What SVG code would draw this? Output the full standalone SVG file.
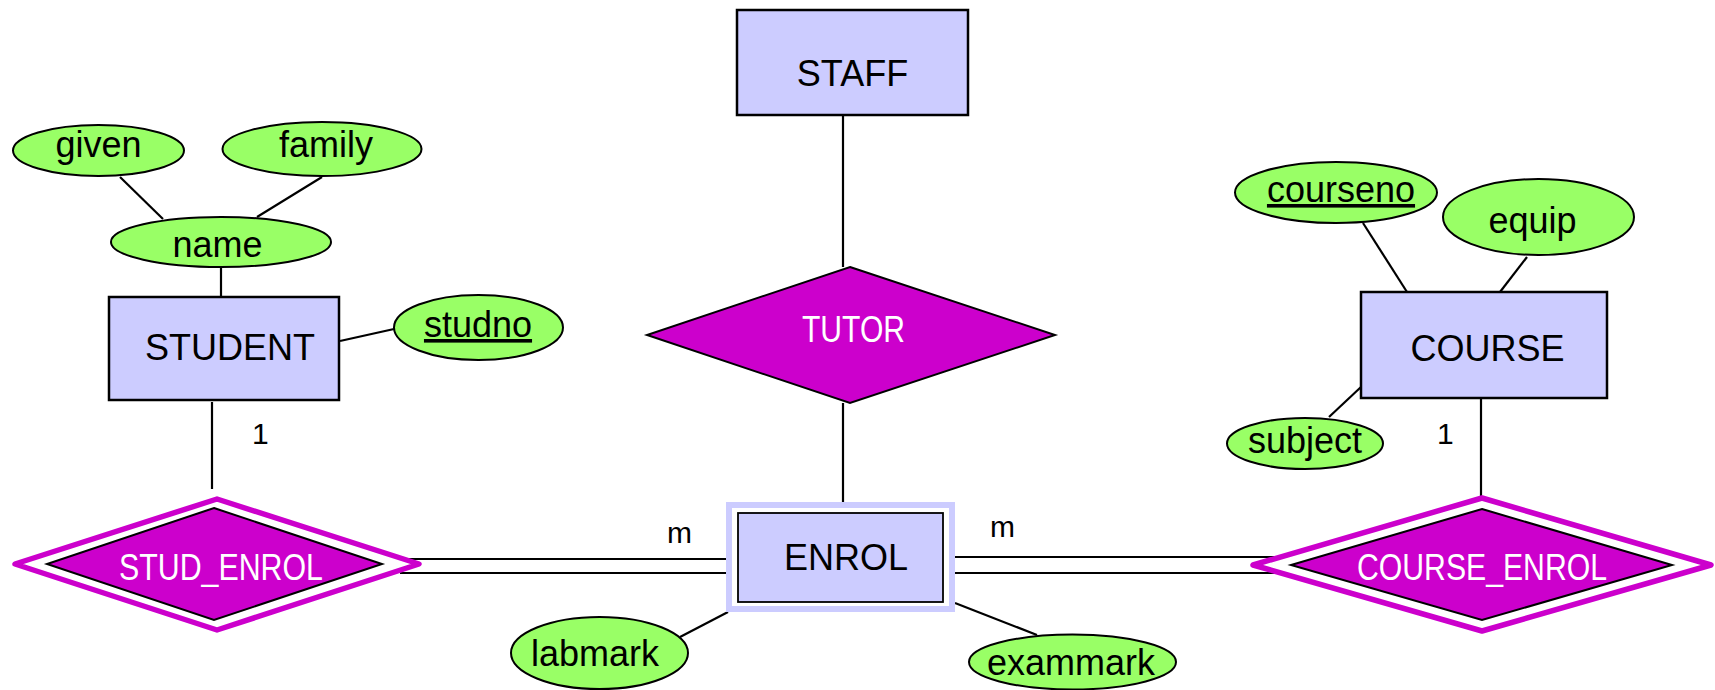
<svg xmlns="http://www.w3.org/2000/svg" width="1715" height="690" viewBox="0 0 1715 690">
  <style>
    .entity { fill: #CCCCFF; stroke: #000; stroke-width: 2.5; }
    .attr { fill: #99FF66; stroke: #000; stroke-width: 2; }
    .rel { fill: #CC00CC; stroke: #000; stroke-width: 2; stroke-linejoin: miter; }
    .relouter { fill: #fff; stroke: #CC00CC; stroke-width: 5.5; stroke-linejoin: round; }
    .link { stroke: #000; stroke-width: 2.2; fill: none; }
    .lbl { font-family: "Liberation Sans", Arial, sans-serif; font-size: 36px; fill: #000; }
    .rlbl { font-family: "Liberation Sans", Arial, sans-serif; font-size: 36px; fill: #fff; }
    .card { font-family: "Liberation Sans", Arial, sans-serif; font-size: 30px; fill: #000; }
    .key { text-decoration: underline; }
  </style>

  <!-- connectors -->
  <g id="connectors">
    <line class="link" x1="120" y1="177" x2="163" y2="219"/>
    <line class="link" x1="322" y1="177" x2="257" y2="217"/>
    <line class="link" x1="221" y1="267" x2="221" y2="297"/>
    <line class="link" x1="340" y1="341" x2="394" y2="329"/>
    <line class="link" x1="212" y1="402" x2="212" y2="489"/>
    <line class="link" x1="843" y1="115" x2="843" y2="267"/>
    <line class="link" x1="843" y1="403" x2="843" y2="502"/>
    <line class="link" x1="400" y1="559" x2="726" y2="559"/>
    <line class="link" x1="400" y1="573" x2="726" y2="573"/>
    <line class="link" x1="955" y1="557" x2="1290" y2="557"/>
    <line class="link" x1="955" y1="573" x2="1290" y2="573"/>
    <line class="link" x1="728" y1="612" x2="680" y2="637"/>
    <line class="link" x1="955" y1="603" x2="1037" y2="635"/>
    <line class="link" x1="1363" y1="223" x2="1407" y2="292"/>
    <line class="link" x1="1527" y1="257" x2="1500" y2="292"/>
    <line class="link" x1="1361" y1="387" x2="1329" y2="417"/>
    <line class="link" x1="1481" y1="398" x2="1481" y2="496"/>
    <text class="card" x="252" y="444">1</text>
    <text class="card" x="1437" y="444">1</text>
    <text class="card" x="667" y="543">m</text>
    <text class="card" x="990" y="537">m</text>
  </g>

  <!-- entities -->
  <g id="staff">
    <rect class="entity" x="737" y="10" width="231" height="105"/>
    <text class="lbl" x="852.5" y="86" text-anchor="middle">STAFF</text>
  </g>
  <g id="student">
    <rect class="entity" x="109" y="297" width="230" height="103"/>
    <text class="lbl" x="230" y="360" text-anchor="middle">STUDENT</text>
  </g>
  <g id="course">
    <rect class="entity" x="1361" y="292" width="246" height="106"/>
    <text class="lbl" x="1487.5" y="361" text-anchor="middle">COURSE</text>
  </g>
  <g id="enrol">
    <rect x="729" y="505" width="223" height="104" fill="#fff" stroke="#CCCCFF" stroke-width="6"/>
    <rect x="738" y="513" width="205" height="89" fill="#CCCCFF" stroke="#000" stroke-width="1.8"/>
    <text class="lbl" x="846" y="570" text-anchor="middle">ENROL</text>
  </g>

  <!-- relationships -->
  <g id="tutor">
    <polygon class="rel" points="850,267 1055,335 850,403 647,335"/>
    <text class="rlbl" x="802" y="342" textLength="103" lengthAdjust="spacingAndGlyphs">TUTOR</text>
  </g>
  <g id="stud_enrol">
    <polygon class="relouter" points="217,499 419,564 217,630 15,564"/>
    <polygon class="rel" points="214,508 382,564 214,620 47,564"/>
    <text class="rlbl" x="119" y="580" textLength="204" lengthAdjust="spacingAndGlyphs">STUD_ENROL</text>
  </g>
  <g id="course_enrol">
    <polygon class="relouter" points="1482,498 1711,565 1482,631 1253,565"/>
    <polygon class="rel" points="1482,509 1672,565 1482,620 1291,565"/>
    <text class="rlbl" x="1357" y="580" textLength="250" lengthAdjust="spacingAndGlyphs">COURSE_ENROL</text>
  </g>

  <!-- attributes -->
  <g id="given">
    <ellipse class="attr" cx="98.5" cy="150.5" rx="85.5" ry="25.5"/>
    <text class="lbl" x="98.5" y="157" text-anchor="middle">given</text>
  </g>
  <g id="family">
    <ellipse class="attr" cx="322" cy="149" rx="99.5" ry="27"/>
    <text class="lbl" x="326" y="157" text-anchor="middle">family</text>
  </g>
  <g id="name">
    <ellipse class="attr" cx="221" cy="242" rx="110" ry="25"/>
    <text class="lbl" x="217.5" y="257" text-anchor="middle">name</text>
  </g>
  <g id="studno">
    <ellipse class="attr" cx="478.5" cy="327.5" rx="84.5" ry="32.5"/>
    <text class="lbl key" x="478" y="337" text-anchor="middle">studno</text>
  </g>
  <g id="labmark">
    <ellipse class="attr" cx="599.5" cy="653" rx="88.5" ry="36"/>
    <text class="lbl" x="595" y="666" text-anchor="middle">labmark</text>
  </g>
  <g id="exammark">
    <ellipse class="attr" cx="1072.5" cy="662" rx="103.5" ry="27.5"/>
    <text class="lbl" x="1071" y="675" text-anchor="middle">exammark</text>
  </g>
  <g id="courseno">
    <ellipse class="attr" cx="1336" cy="192.5" rx="101" ry="30.5"/>
    <text class="lbl key" x="1341" y="202" text-anchor="middle">courseno</text>
  </g>
  <g id="equip">
    <ellipse class="attr" cx="1538.5" cy="217" rx="95.5" ry="38"/>
    <text class="lbl" x="1532.5" y="233" text-anchor="middle">equip</text>
  </g>
  <g id="subject">
    <ellipse class="attr" cx="1305" cy="443.5" rx="78" ry="25.5"/>
    <text class="lbl" x="1305" y="453" text-anchor="middle">subject</text>
  </g>
</svg>
